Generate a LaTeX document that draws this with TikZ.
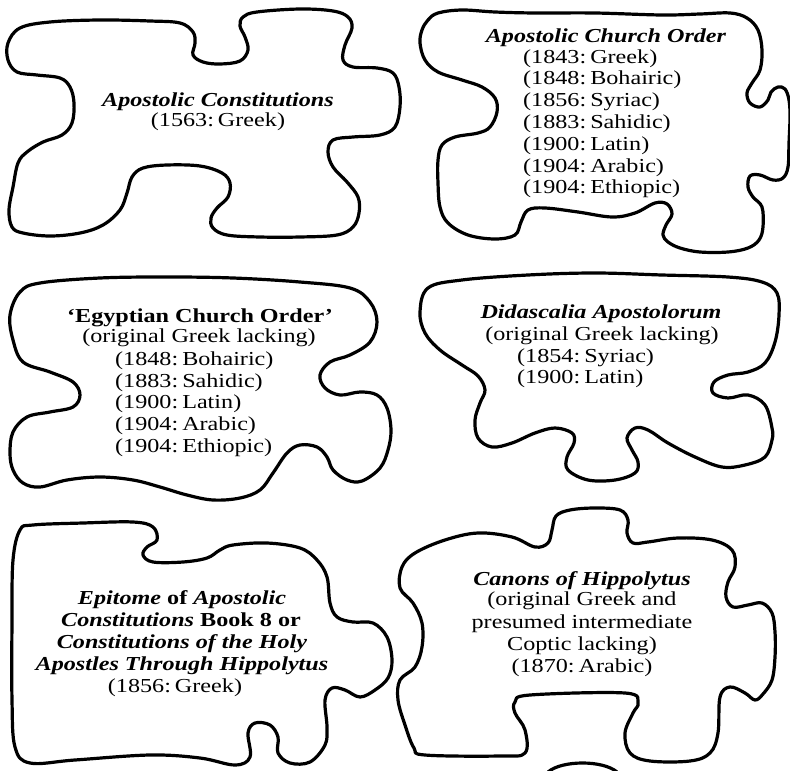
\documentclass[tikz,border=0pt]{standalone}
\usepackage{fontspec}
\setmainfont{Liberation Serif}[FakeStretch=1.22]
\newcommand\colsp{:\hspace{4pt}}
\tikzset{
  piece/.style={line width=3.2pt, line join=round, black},
  ttl/.style={font=\fontsize{19.8}{22}\selectfont\bfseries\itshape, inner sep=0pt, anchor=base},
  btxt/.style={font=\fontsize{19.8}{22}\selectfont\bfseries, inner sep=0pt, anchor=base},
  txt/.style={font=\fontsize{19.8}{22}\selectfont, inner sep=0pt, anchor=base},
  lst/.style={txt, anchor=base west}
}
\begin{document}
\begin{tikzpicture}[x=1pt,y=-1pt]
\useasboundingbox (0,0) rectangle (790,771);
% piece 1
\draw[piece] plot[smooth cycle, tension=0.6] coordinates {
(20,28) (50,22) (100,20) (150,21) (180,23) (193,32) (195,43) (193,55) (203,62) (220,64) (240,61) (248,50) (245,37) (240,26) (243,17) (257,12) (300,9) (333,11) (348,17) (352,28) (345,45) (343,60) (353,67) (377,68) (393,73) (399,87) (400,107) (395,127) (380,135) (353,137) (333,140) (328,152) (333,167) (347,182) (358,197) (359,213) (353,227) (337,235) (300,237) (260,237) (227,235) (213,228) (211,218) (217,208) (228,197) (230,183) (222,173) (200,166) (167,165) (143,168) (132,177) (127,193) (120,210) (103,225) (80,233) (50,236) (23,233) (12,227) (9,210) (13,187) (18,163) (27,152) (43,142) (62,135) (72,123) (74,103) (70,87) (60,78) (37,75) (17,72) (8,60) (8,43)};
% piece 2
\draw[piece] plot[smooth cycle, tension=0.6] coordinates {
(438,13) (462,10) (495,12) (535,13) (595,13) (662,15) (700,14) (730,13) (747,18) (758,30) (762,50) (760,70) (752,83) (747,93) (750,103) (760,107) (768,100) (771,92) (778,87) (785,89) (789,100) (790,117) (789,143) (788,167) (783,178) (773,180) (760,175) (750,176) (748,187) (753,197) (762,207) (763,227) (759,240) (748,248) (728,252) (700,252) (680,248) (668,242) (663,235) (666,225) (672,214) (667,204) (655,203) (635,213) (612,217) (578,212) (545,208) (528,210) (521,222) (515,235) (495,239) (468,235) (448,223) (440,207) (438,183) (438,160) (442,145) (455,137) (478,133) (490,127) (497,112) (495,98) (482,87) (462,80) (438,72) (425,60) (420,43) (422,30) (428,20)};
% piece 3
\draw[piece] plot[smooth cycle, tension=0.6] coordinates {
(20,292) (40,283) (100,278) (167,277) (233,278) (300,282) (350,288) (370,302) (377,322) (370,342) (350,355) (330,362) (320,375) (325,388) (340,395) (360,392) (377,395) (387,408) (391,430) (388,450) (380,468) (362,481) (347,480) (333,470) (327,457) (317,447) (300,445) (287,453) (273,473) (260,490) (240,498) (213,500) (187,495) (160,487) (133,480) (100,477) (67,480) (40,487) (23,483) (13,470) (10,453) (13,432) (27,417) (50,412) (73,407) (80,395) (73,382) (50,372) (23,362) (13,340) (10,315)};
% piece 4
\draw[piece] plot[smooth cycle, tension=0.6] coordinates {
(428,288) (462,280) (528,275) (595,273) (662,275) (728,277) (762,282) (777,293) (779,315) (775,342) (765,363) (748,372) (728,375) (714,382) (713,393) (728,398) (748,395) (765,405) (772,428) (772,440) (765,457) (745,465) (722,467) (695,457) (668,443) (648,430) (635,428) (627,438) (632,450) (638,462) (635,473) (615,480) (588,480) (568,470) (567,457) (574,443) (572,433) (555,428) (535,433) (512,443) (492,447) (478,438) (475,420) (480,403) (485,390) (478,376) (462,365) (440,350) (425,333) (420,312)};
% piece 5
\draw[piece] plot[smooth cycle, tension=0.6] coordinates {
(20,530) (33,525) (83,523) (133,522) (153,527) (157,540) (147,547) (143,555) (153,562) (183,562) (207,558) (220,550) (233,545) (267,543) (300,548) (317,560) (327,577) (330,603) (337,617) (353,622) (373,623) (387,637) (392,660) (388,678) (375,690) (360,697) (345,690) (332,688) (325,700) (327,727) (325,745) (310,762) (290,763) (278,753) (278,737) (270,725) (255,723) (248,733) (250,757) (235,765) (200,758) (150,755) (75,760) (30,763) (15,747) (12,700) (12,620) (13,560)};
% piece 6
\draw[piece] plot[smooth cycle, tension=0.6] coordinates {
(415,553) (445,540) (478,533) (512,537) (535,547) (548,543) (552,530) (556,516) (570,510) (595,508) (620,510) (628,520) (627,533) (633,543) (648,542) (678,538) (712,540) (732,550) (735,567) (728,582) (726,597) (733,607) (748,605) (762,603) (772,613) (775,632) (775,657) (772,680) (763,694) (755,700) (745,693) (730,687) (720,697) (718,733) (710,753) (690,761) (650,761) (630,753) (625,733) (633,713) (638,703) (625,693) (530,695) (515,702) (515,713) (525,730) (525,753) (500,756) (425,755) (414,748) (405,725) (398,700) (400,680) (415,667) (422,647) (422,623) (413,603) (400,588) (402,567)};
% partial piece at bottom
\draw[piece] (548,772) .. controls (562,760) and (603,760) .. (617,772);

% texts piece 1
\node[ttl] (t1) at (218,106) {Apostolic Constitutions};
\node[txt] (t1a) at (218,126) {(1563\colsp Greek)};
% piece 2
\node[ttl] (t2) at (606,42) {Apostolic Church Order};
\node[lst] (t2a) at (523,63) {(1843\colsp Greek)};
\node[lst] (t2b) at (523,84.8) {(1848\colsp Bohairic)};
\node[lst] (t2c) at (523,106.6) {(1856\colsp Syriac)};
\node[lst] (t2d) at (523,128.4) {(1883\colsp Sahidic)};
\node[lst] (t2e) at (523,150.2) {(1900\colsp Latin)};
\node[lst] (t2f) at (523,172) {(1904\colsp Arabic)};
\node[lst] (t2g) at (523,193.8) {(1904\colsp Ethiopic)};
% piece 3
\node[btxt] (t3) at (200,322) {`Egyptian Church Order'};
\node[txt] (t3a) at (199,342) {(original Greek lacking)};
\node[lst] (t3b) at (115,365) {(1848\colsp Bohairic)};
\node[lst] (t3c) at (115,387) {(1883\colsp Sahidic)};
\node[lst] (t3d) at (115,408.5) {(1900\colsp Latin)};
\node[lst] (t3e) at (115,430) {(1904\colsp Arabic)};
\node[lst] (t3f) at (115,452) {(1904\colsp Ethiopic)};
% piece 4
\node[ttl] (t4) at (601,318) {Didascalia Apostolorum};
\node[txt] (t4a) at (602,340) {(original Greek lacking)};
\node[lst] (t4b) at (517,362) {(1854\colsp Syriac)};
\node[lst] (t4c) at (517,383) {(1900\colsp Latin)};
% piece 5
\node[btxt] (t5a) at (182,604) {\textit{Epitome} of \textit{Apostolic}};
\node[btxt] (t5b) at (181,626) {\textit{Constitutions} Book 8 or};
\node[ttl] (t5c) at (182,648) {Constitutions of the Holy};
\node[ttl] (t5d) at (182,670) {Apostles Through Hippolytus};
\node[txt] (t5e) at (175,692) {(1856\colsp Greek)};
% piece 6
\node[ttl] (t6) at (582,585) {Canons of Hippolytus};
\node[txt] (t6a) at (582,605) {(original Greek and};
\node[txt] (t6b) at (582,628) {presumed intermediate};
\node[txt] (t6c) at (582,650) {Coptic lacking)};
\node[txt] (t6d) at (582,672) {(1870\colsp Arabic)};
\end{tikzpicture}
\end{document}
